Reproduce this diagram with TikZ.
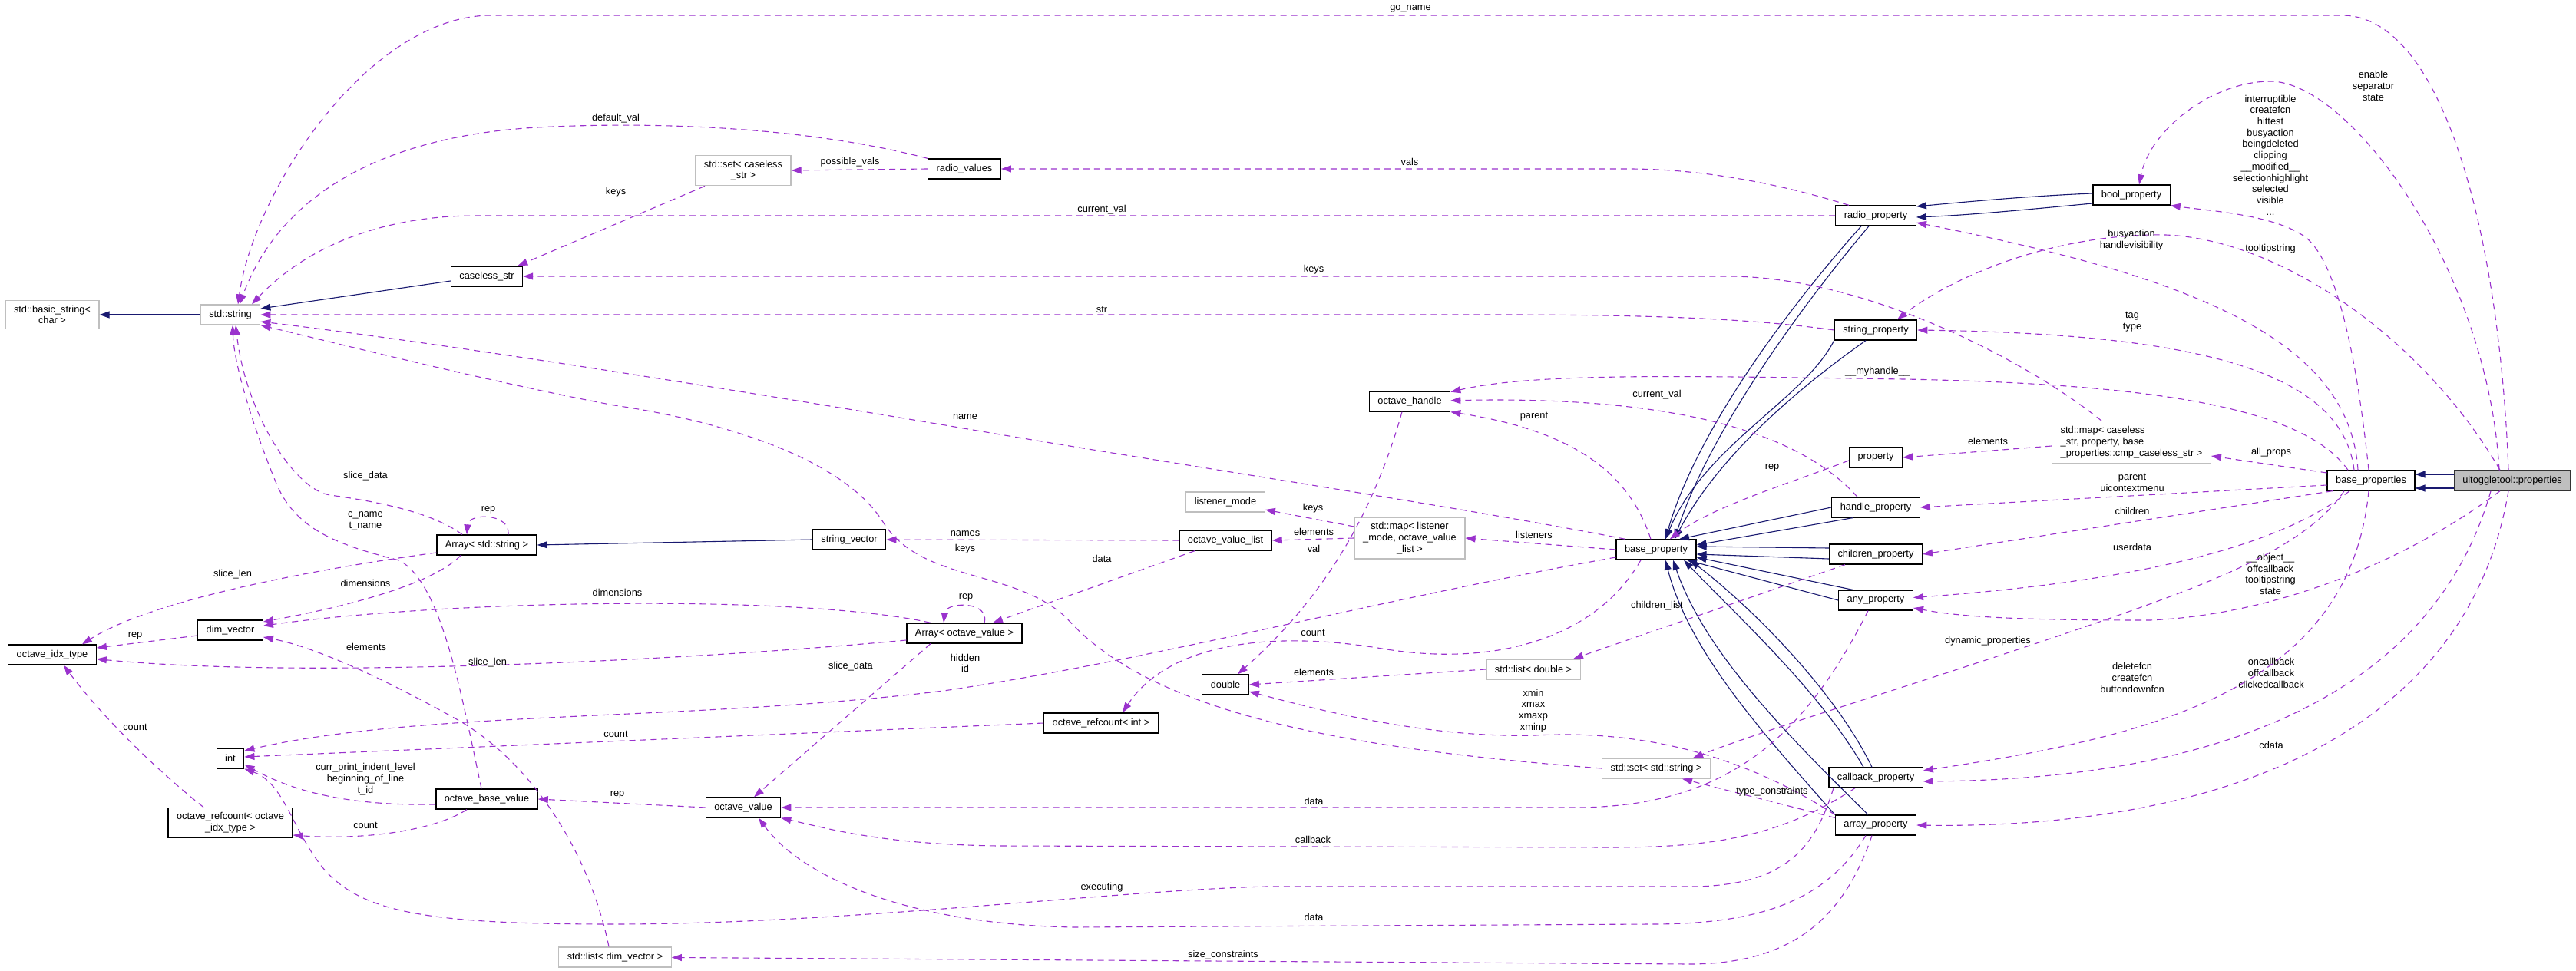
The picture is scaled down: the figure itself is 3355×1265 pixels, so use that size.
\documentclass[tikz,border=0pt]{standalone}
\usepackage{fontspec}
\setmainfont{Liberation Sans}
\usetikzlibrary{arrows.meta}
\definecolor{navyedge}{RGB}{25,25,112}
\definecolor{orchidedge}{RGB}{154,50,205}
\definecolor{greyline}{RGB}{191,191,191}

\begin{document}
\begin{tikzpicture}[
        x=1pt, y=-1pt,
        font=\fontsize{12.8}{14.7}\selectfont,
        % Estilos de las cajas
        cls/.style={rectangle, draw=black, line width=1.3pt, fill=white, align=center, inner xsep=11pt, inner ysep=6.5pt, minimum height=26pt},
        ext/.style={cls, draw=greyline},
        focus/.style={cls, fill=greyline, draw=black!80},
        lbl/.style={align=center, inner sep=0pt},
        inh/.style={->, >={Triangle[length=13pt,width=9pt]}, draw=navyedge, line width=1.1pt},
        dep/.style={->, >={Triangle[length=13pt,width=9pt]}, draw=orchidedge, line width=1.1pt, dash pattern=on 8pt off 6pt}
    ]

    \fill[white] (0,0) rectangle (3355,1265);
    \useasboundingbox (0,0) rectangle (3355,1265);

    % Clases (columnas de izquierda a derecha)
    \node[ext] (bstr) at (68,410) {std::basic\_string<\\char >};
    \node[cls] (idx) at (68,853) {octave\_idx\_type};

    \node[ext] (stdstr) at (300,410) {std::string};
    \node[cls] (dimv) at (300,821) {dim\_vector};
    \node[cls] (int) at (300,988) {int};
    \node[cls] (rcidx) at (300,1072) {octave\_refcount< octave\\\_idx\_type >};

    \node[cls] (cstr) at (634,360) {caseless\_str};
    \node[cls] (arrstr) at (634,710) {Array< std::string >};
    \node[cls] (obv) at (634,1041) {octave\_base\_value};
    \node[ext] (listdim) at (801,1247) {std::list< dim\_vector >};

    \node[ext] (setcs) at (968,222) {std::set< caseless\\\_str >};
    \node[cls] (ov) at (968,1052) {octave\_value};
    \node[cls] (strvec) at (1106,703) {string\_vector};

    \node[cls] (rvals) at (1256,220) {radio\_values};
    \node[cls] (arrov) at (1256,825) {Array< octave\_value >};
    \node[cls] (rcint) at (1434,942) {octave\_refcount< int >};

    \node[ext] (lmode) at (1596,654) {listener\_mode};
    \node[cls] (ovl) at (1596,704) {octave\_value\_list};
    \node[cls] (dbl) at (1596,892) {double};

    \node[cls] (ohandle) at (1836,523) {octave\_handle};
    \node[ext] (maplm) at (1836,701) {std::map< listener\\\_mode, octave\_value\\\_list >};
    \node[ext] (listdbl) at (1997,872) {std::list< double >};

    \node[cls] (bprop) at (2157,716) {base\_property};
    \node[ext] (setstr) at (2157,1001) {std::set< std::string >};

    \node[cls] (rprop) at (2443,281) {radio\_property};
    \node[cls] (sprop) at (2443,430) {string\_property};
    \node[cls] (prop) at (2443,596) {property};
    \node[cls] (hprop) at (2443,661) {handle\_property};
    \node[cls] (cprop) at (2443,722) {children\_property};
    \node[cls] (aprop) at (2443,782) {any\_property};
    \node[cls] (cbprop) at (2443,1013) {callback\_property};
    \node[cls] (arprop) at (2443,1075) {array\_property};

    \node[cls] (boolp) at (2776,254) {bool\_property};
    \node[ext, align=left] (mapcs) at (2776,576) {std::map< caseless\\\_str, property, base\\\_properties::cmp\_caseless\_str >};

    \node[cls] (bprops) at (3088,626) {base\_properties};
    \node[focus] (uit) at (3272,626) {uitoggletool::properties};

    % ---------------- HERENCIA ---------------- %

    \draw[inh] (stdstr) -- (bstr);
    \draw[inh] ([yshift=-6pt]cstr.west) -- ([yshift=8pt]stdstr.east);
    \draw[inh] (strvec.west) -- (arrstr.east);
    \draw[inh] ([yshift=8pt]uit.west) -- ([yshift=8pt]bprops.east);
    \draw[inh] ([yshift=-10pt]uit.west) -- ([yshift=-10pt]bprops.east);
    \draw[inh] ([yshift=2pt]boolp.west) .. controls (2650,255) and (2570,262) .. ([yshift=12pt]rprop.east);
    \draw[inh] ([yshift=-11pt]boolp.west) .. controls (2650,272) and (2570,280) .. ([yshift=-2pt]rprop.east);
    \draw[inh] ([xshift=-19pt]rprop.south) .. controls (2330,400) and (2210,560) .. ([xshift=12pt]bprop.north);
    \draw[inh] ([xshift=-9pt]rprop.south) .. controls (2345,400) and (2225,565) .. ([xshift=24pt]bprop.north);
    \draw[inh] (sprop.south west) .. controls (2350,520) and (2220,580) .. ([xshift=12pt]bprop.north);
    \draw[inh] ([xshift=-13pt]sprop.south) .. controls (2350,500) and (2240,590) .. ([xshift=24pt]bprop.north);
    \draw[inh] (hprop.west) -- ([xshift=30pt]bprop.north);
    \draw[inh] ([xshift=-30pt]hprop.south) -- ([yshift=6pt]bprop.east);
    \draw[inh] ([yshift=8pt]cprop.west) -- ([yshift=4pt]bprop.east);
    \draw[inh] ([yshift=-6pt]cprop.west) -- ([yshift=-6pt]bprop.east);
    \draw[inh] ([xshift=-30pt]aprop.north) -- ([yshift=-10pt]bprop.east);
    \draw[inh] (aprop.west) -- ([xshift=40pt]bprop.south);
    \draw[inh] ([xshift=-16pt]cbprop.north) .. controls (2370,900) and (2260,800) .. ([xshift=36pt]bprop.south);
    \draw[inh] ([xshift=-5pt]cbprop.north) .. controls (2390,900) and (2280,790) .. ([xshift=44pt]bprop.south);
    \draw[inh] (arprop.north west) .. controls (2300,960) and (2200,850) .. ([xshift=12pt]bprop.south);
    \draw[inh] ([xshift=-10pt]arprop.north) .. controls (2330,960) and (2220,850) .. ([xshift=22pt]bprop.south);

    % ---------------- MIEMBROS ---------------- %

    % desde uitoggletool::properties
    \draw[dep] ([xshift=-5pt]uit.north) .. controls (3255,300) and (3180,20) .. (3050,20) -- (640,20) .. controls (480,20) and (330,250) .. ([xshift=10pt]stdstr.north) node[lbl] at (1837,11) {go\_name};
    \draw[dep] ([xshift=-17pt]uit.north) .. controls (3240,350) and (3060,106) .. (2957,106) .. controls (2880,106) and (2800,170) .. ([xshift=10pt]boolp.north) node[lbl] at (3091,112) {enable\\separator\\state};
    \draw[dep] ([xshift=-16pt]uit.north) .. controls (3150,430) and (2950,300) .. (2800,306) .. controls (2650,310) and (2530,370) .. ([xshift=28pt]sprop.north) node[lbl] at (2957,324) {tooltipstring};
    \draw[dep] ([xshift=-16pt]uit.south) .. controls (3150,720) and (2980,800) .. (2800,808) .. controls (2650,808) and (2560,805) .. ([yshift=-10pt]aprop.east) node[lbl] at (2957,748) {\_\_object\_\_\\offcallback\\tooltipstring\\state};
    \draw[dep] ([xshift=-28pt]uit.south) .. controls (3170,900) and (2900,1015) .. ([yshift=-5pt]cbprop.east) node[lbl] at (2958,877) {oncallback\\offcallback\\clickedcallback};
    \draw[dep] ([xshift=-5pt]uit.south) .. controls (3210,980) and (2850,1080) .. (arprop.east) node[lbl] at (2958,971) {cdata};

    % desde base_properties
    \draw[dep] ([xshift=-3pt]bprops.north) .. controls (3070,470) and (3045,345) .. (3004,310) .. controls (2965,280) and (2880,275) .. (boolp.south east) node[lbl] at (2957,202) {interruptible\\createfcn\\hittest\\busyaction\\beingdeleted\\clipping\\\_\_modified\_\_\\selectionhighlight\\selected\\visible\\...};
    \draw[dep] ([xshift=-17pt]bprops.north) .. controls (3060,440) and (2850,360) .. ([yshift=-9pt]rprop.east) node[lbl] at (2776,313) {busyaction\\handlevisibility};
    \draw[dep] ([xshift=-22pt]bprops.north) .. controls (3050,480) and (2850,435) .. (sprop.east) node[lbl] at (2777,419) {tag\\type};
    \draw[dep] ([xshift=-30pt]bprops.north) .. controls (3000,530) and (2800,500) .. (2480,494) .. controls (2200,490) and (2000,485) .. (ohandle) node[lbl] at (2445,484) {\_\_myhandle\_\_};
    \draw[dep] ([yshift=10pt]bprops.west) -- ([yshift=-18pt]mapcs.east) node[lbl] at (2958,589) {all\_props};
    \draw[dep] ([yshift=-6pt]bprops.west) -- (hprop.east) node[lbl] at (2777,629) {parent\\uicontextmenu};
    \draw[dep] ([xshift=-50pt]bprops.south) -- (cprop.east) node[lbl] at (2777,666) {children};
    \draw[dep] ([xshift=-28pt]bprops.south) .. controls (2960,720) and (2750,760) .. (aprop) node[lbl] at (2777,713) {userdata};
    \draw[dep] ([xshift=-35pt]bprops.south) .. controls (3000,720) and (2850,770) .. (2700,822) .. controls (2500,890) and (2300,950) .. ([xshift=48pt]setstr.north) node[lbl] at (2589,835) {dynamic\_properties};
    \draw[dep] ([xshift=-3pt]bprops.south) .. controls (3060,900) and (2800,960) .. (cbprop) node[lbl] at (2777,883) {deletefcn\\createfcn\\buttondownfcn};

    % mapa de propiedades
    \draw[dep] ([yshift=-5pt]mapcs.west) -- (prop.east) node[lbl] at (2589,575) {elements};
    \draw[dep] ([xshift=-39pt]mapcs.north) .. controls (2640,470) and (2430,360) .. (2250,360) -- (cstr) node[lbl] at (1711,351) {keys};

    % clases de propiedades
    \draw[dep] ([xshift=-24pt]hprop.north) .. controls (2350,570) and (2200,515) .. (ohandle) node[lbl] at (2158,514) {current\_val};
    \draw[dep] ([yshift=-4pt]prop.west) .. controls (2330,630) and (2230,660) .. (bprop) node[lbl] at (2308,609) {rep};
    \draw[dep] ([xshift=-40pt]cprop.south) -- ([xshift=52pt]listdbl.north) node[lbl] at (2158,789) {children\_list};
    \draw[dep] (sprop.west) .. controls (2280,415) and (2150,410) .. (1950,410) -- (stdstr) node[lbl] at (1435,403) {str};
    \draw[dep] (rprop.west) -- (620,281) .. controls (500,281) and (400,320) .. ([xshift=28pt]stdstr.north) node[lbl] at (1435,273) {current\_val};
    \draw[dep] ([xshift=-35pt]rprop.north) .. controls (2320,240) and (2220,220) .. (2120,220) -- (rvals) node[lbl] at (1836,211) {vals};
    \draw[dep] ([xshift=-10pt]aprop.south) .. controls (2350,960) and (2250,1052) .. (2050,1052) -- (ov) node[lbl] at (1711,1044) {data};
    \draw[dep] ([xshift=-27pt]cbprop.south) .. controls (2320,1090) and (2230,1104) .. (2100,1104) -- (1300,1102) .. controls (1150,1100) and (1080,1080) .. (ov.south east) node[lbl] at (1710,1094) {callback};
    \draw[dep] ([xshift=-55pt]cbprop.south) .. controls (2365,1100) and (2330,1155) .. (2200,1155) -- (1650,1155) .. controls (1450,1160) and (1100,1204) .. (800,1204) .. controls (560,1204) and (470,1190) .. (420,1130) .. controls (380,1080) and (370,1020) .. (int.south east) node[lbl] at (1435,1156) {executing};
    \draw[dep] (arprop.north west) .. controls (2280,990) and (2150,950) .. (2000,958) .. controls (1850,962) and (1700,920) .. ([yshift=-9pt]dbl.east) node[lbl] at (1997,926) {xmin\\xmax\\xmaxp\\xminp};
    \draw[dep] ([yshift=-4pt]arprop.north west) -- ([xshift=34pt]setstr.south) node[lbl] at (2308,1031) {type\_constraints};
    \draw[dep] ([xshift=-13pt]arprop.south) .. controls (2380,1170) and (2300,1204) .. (2150,1204) -- (1400,1208) .. controls (1200,1205) and (1050,1150) .. ([xshift=20pt]ov.south) node[lbl] at (1711,1195) {data};
    \draw[dep] ([xshift=-5pt]arprop.south) .. controls (2400,1200) and (2330,1256) .. (2200,1256) -- (listdim) node[lbl] at (1593,1244) {size\_constraints};

    % base_property
    \draw[dep] (bprop.west) -- (maplm.east) node[lbl] at (1998,697) {listeners};
    \draw[dep] ([xshift=-7pt]bprop.north) .. controls (2120,610) and (2040,560) .. (ohandle.south east) node[lbl] at (1998,543) {parent};
    \draw[dep] ([xshift=-40pt]bprop.north) .. controls (1900,660) and (1500,600) .. (1255,558) .. controls (1000,515) and (600,450) .. ([yshift=-9pt]stdstr.east) node[lbl] at (1257,543) {name};
    \draw[dep] ([xshift=-20pt]bprop.south) .. controls (2080,830) and (1950,870) .. (1800,845) .. controls (1650,820) and (1520,840) .. ([xshift=28pt]rcint.north) node[lbl] at (1710,824) {count};
    \draw[dep] ([yshift=-10pt]bprop.west) .. controls (1800,780) and (1500,860) .. (1229,900) .. controls (900,940) and (550,925) .. ([yshift=10pt]int.east) node[lbl] at (1257,864) {hidden\\id};

    % contenedores
    \draw[dep] (setstr.west) .. controls (1750,975) and (1500,930) .. (1389,805) .. controls (1320,740) and (1200,760) .. (1150,680) .. controls (1100,600) and (950,550) .. (800,528) .. controls (650,500) and (450,450) .. (stdstr.south east) node[lbl] at (1257,715) {keys};
    \draw[dep] ([yshift=15pt]maplm.west) -- ([yshift=-10pt]lmode.east) node[lbl] at (1710,662) {keys};
    \draw[dep] (maplm.west) -- (ovl.east) node[lbl] at (1711,693) {elements};
    \draw[dep] ([xshift=-10pt]ohandle.south) .. controls (1780,700) and (1700,800) .. ([xshift=16pt]dbl.north) node[lbl] at (1711,715) {val};
    \draw[dep] (listdbl.west) -- (dbl.east) node[lbl] at (1711,876) {elements};
    \draw[dep] (ovl.west) -- (strvec.east) node[lbl] at (1257,695) {names};
    \draw[dep] ([xshift=-40pt]ovl.south) -- ([xshift=37pt]arrov.north) node[lbl] at (1435,728) {data};
    \draw[dep] (rcint.west) -- ([yshift=2pt]int.east) node[lbl] at (802,956) {count};
    \draw[dep] (rvals.west) -- (setcs.east) node[lbl] at (1107,211) {possible\_vals};
    \draw[dep] (rvals.north west) .. controls (1050,165) and (850,158) .. (700,166) .. controls (520,176) and (370,240) .. ([xshift=12pt]stdstr.north) node[lbl] at (802,154) {default\_val};
    \draw[dep] ([xshift=-50pt]setcs.south) -- ([xshift=-7pt]cstr.north east) node[lbl] at (802,250) {keys};

    % Array< octave_value >
    \draw[dep] ([xshift=26pt]arrov.north) .. controls (1290,783) and (1232,783) .. ([xshift=-27pt]arrov.north) node[lbl] at (1258,778) {rep};
    \draw[dep] ([xshift=-44pt]arrov.south) -- ([xshift=14pt]ov.north) node[lbl] at (1108,868) {slice\_data};
    \draw[dep] ([xshift=-44pt]arrov.north) .. controls (1050,775) and (600,780) .. (dimv) node[lbl] at (804,772) {dimensions};
    \draw[dep] ([yshift=-9pt]arrov.west) .. controls (900,860) and (400,885) .. (idx) node[lbl] at (635,863) {slice\_len};
    \draw[dep] (ov.west) -- (obv.east) node[lbl] at (804,1035) {rep};

    % octave_base_value
    \draw[dep] ([yshift=-7pt]obv.west) .. controls (450,1050) and (380,1030) .. ([yshift=-8pt]int.east) node[lbl] at (476,1015) {curr\_print\_indent\_level\\beginning\_of\_line\\t\_id};
    \draw[dep] ([xshift=-26pt]obv.south) .. controls (570,1080) and (480,1095) .. ([yshift=-16pt]rcidx.east) node[lbl] at (476,1075) {count};
    \draw[dep] ([xshift=-7pt]obv.north) .. controls (600,900) and (575,760) .. (520,730) .. controls (440,710) and (385,690) .. (360,630) .. controls (335,570) and (305,480) .. ([xshift=3pt]stdstr.south) node[lbl] at (476,679) {c\_name\\t\_name};

    % Array< std::string > y vecinos
    \draw[dep] ([xshift=28pt]arrstr.north) .. controls (665,668) and (610,668) .. ([xshift=-26pt]arrstr.north) node[lbl] at (636,664) {rep};
    \draw[dep] ([xshift=-32pt]arrstr.north) .. controls (560,665) and (480,652) .. (430,645) .. controls (385,639) and (320,540) .. ([xshift=7pt]stdstr.south) node[lbl] at (476,620) {slice\_data};
    \draw[dep] ([yshift=-10pt]arrstr.west) .. controls (420,740) and (200,780) .. ([xshift=39pt]idx.north) node[lbl] at (303,748) {slice\_len};
    \draw[dep] ([xshift=-34pt]arrstr.south) .. controls (570,755) and (480,785) .. ([yshift=11pt]dimv.east) node[lbl] at (476,760) {dimensions};
    \draw[dep] ([xshift=-8pt]listdim.north) .. controls (770,1120) and (700,1000) .. (600,940) .. controls (520,895) and (420,845) .. ([yshift=-9pt]dimv.east) node[lbl] at (477,843) {elements};
    \draw[dep] ([yshift=-7pt]dimv.west) -- ([yshift=9pt]idx.east) node[lbl] at (176,828) {rep};
    \draw[dep] ([xshift=-35pt]rcidx.north) .. controls (200,1000) and (130,930) .. ([xshift=15pt]idx.south) node[lbl] at (176,947) {count};

\end{tikzpicture}
\end{document}
